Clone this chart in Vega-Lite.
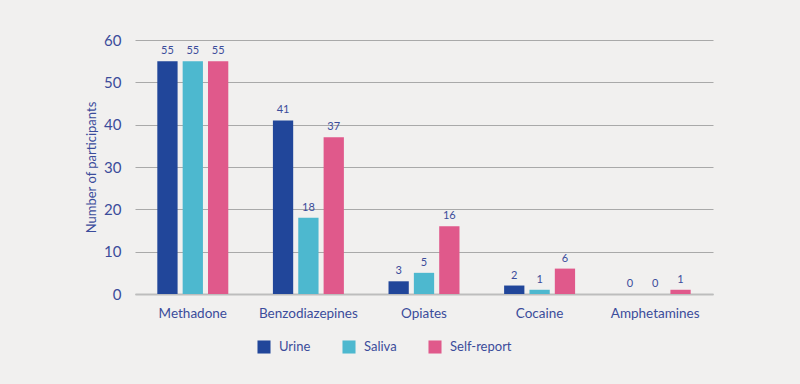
{
  "$schema": "https://vega.github.io/schema/vega-lite/v6.json",
  "width": 578,
  "height": 254,
  "autosize": {"type": "none"},
  "padding": {"left": 135, "top": 40, "right": 87, "bottom": 90},
  "background": "#f1f0ef",
  "config": {
    "view": {"stroke": null},
    "font": "Lato",
    "axis": {"labelColor": "#3b4c9b", "titleColor": "#3b4c9b", "labelFont": "Lato", "titleFont": "Lato"},
    "legend": {"labelColor": "#3b4c9b", "labelFont": "Lato"}
  },
  "data": {
    "values": [
      {"drug": "Methadone", "method": "Urine", "n": 55},
      {"drug": "Methadone", "method": "Saliva", "n": 55},
      {"drug": "Methadone", "method": "Self-report", "n": 55},
      {"drug": "Benzodiazepines", "method": "Urine", "n": 41},
      {"drug": "Benzodiazepines", "method": "Saliva", "n": 18},
      {"drug": "Benzodiazepines", "method": "Self-report", "n": 37},
      {"drug": "Opiates", "method": "Urine", "n": 3},
      {"drug": "Opiates", "method": "Saliva", "n": 5},
      {"drug": "Opiates", "method": "Self-report", "n": 16},
      {"drug": "Cocaine", "method": "Urine", "n": 2},
      {"drug": "Cocaine", "method": "Saliva", "n": 1},
      {"drug": "Cocaine", "method": "Self-report", "n": 6},
      {"drug": "Amphetamines", "method": "Urine", "n": 0},
      {"drug": "Amphetamines", "method": "Saliva", "n": 0},
      {"drug": "Amphetamines", "method": "Self-report", "n": 1}
    ]
  },
  "encoding": {
    "x": {
      "field": "drug", "type": "nominal", "sort": null,
      "scale": {"paddingInner": 0.386, "paddingOuter": 0.193},
      "axis": {"title": null, "labelAngle": 0, "labelFontSize": 13.5, "labelPadding": 12, "ticks": false, "domainColor": "#bdbdbd", "domainWidth": 2}
    },
    "xOffset": {"field": "method", "type": "nominal", "sort": ["Urine", "Saliva", "Self-report"], "scale": {"paddingInner": 0.2}},
    "y": {
      "field": "n", "type": "quantitative",
      "scale": {"domain": [0, 60]},
      "axis": {"title": "Number of participants", "titleFontSize": 13, "titleFontWeight": "normal", "titlePadding": 5, "labelFontSize": 15, "labelPadding": 14, "ticks": false, "domain": false, "tickCount": 6, "gridColor": "#a9a9a9", "gridWidth": 1.2}
    }
  },
  "layer": [
    {
      "mark": {"type": "bar"},
      "encoding": {
        "color": {
          "field": "method", "type": "nominal", "sort": ["Urine", "Saliva", "Self-report"],
          "scale": {"domain": ["Urine", "Saliva", "Self-report"], "range": ["#21469a", "#4db8cf", "#e0598b"]},
          "legend": {"title": null, "orient": "none", "direction": "horizontal", "legendX": 122, "legendY": 300, "symbolType": "square", "symbolSize": 170, "symbolStrokeWidth": 0, "labelFontSize": 13, "labelOffset": 8, "columnPadding": 31}
        }
      }
    },
    {
      "mark": {"type": "text", "baseline": "bottom", "dy": -5, "fontSize": 11, "color": "#3b4c9b"},
      "encoding": {"text": {"field": "n", "type": "quantitative"}}
    }
  ]
}
